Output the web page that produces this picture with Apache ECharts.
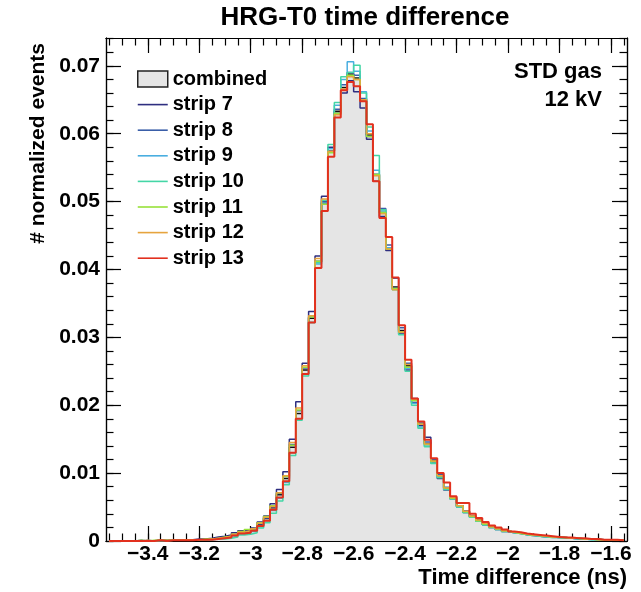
<!DOCTYPE html>
<html>
<head>
<meta charset="utf-8">
<script src="https://cdn.jsdelivr.net/npm/echarts@6/dist/echarts.min.js"></script>
<style>
html,body{margin:0;padding:0;background:#fff;}
#c{width:641px;height:592px;}
</style>
</head>
<body>
<div id="c"></div>
<script>
// ---- data ----
const binStart = -3.55;
const binWidth = 0.025;
const xTickLabels = [-3.4, -3.2, -3, -2.8, -2.6, -2.4, -2.2, -2, -1.8, -1.6];
const yTickLabels = [0, 0.01, 0.02, 0.03, 0.04, 0.05, 0.06, 0.07];
const seriesNames = ['combined', 'strip 7', 'strip 8', 'strip 9', 'strip 10', 'strip 11', 'strip 12', 'strip 13'];

const combined = [0,0,0,0.00005,0,0.00005,0.00005,0.0001,0.0001,0.0001,0.0001,0.00015,0.0002,0.0002,0.0002,0.0003,0.0004,0.0005,0.0006,0.0009,0.0012,0.0013,
0.0016,0.0024,0.0033,0.0049,0.0068,0.0092,0.0138,0.0188,0.0252,0.0328,0.0411,0.0498,0.0574,0.0633,0.0668,0.0688,0.0682,0.0650,0.0598,0.0540,
0.0484,0.0432,0.0374,0.0310,0.0258,0.0208,0.0172,0.0143,0.0118,0.0096,0.0078,0.0064,0.0052,0.0044,0.0037,0.0031,0.0026,0.0021,0.0018,0.0015,
0.0013,0.0012,0.0010,0.0009,0.0008,0.0007,0.0006,0.0006,0.0005,0.0004,0.0004,0.0003,0.0003,0.0003,0.0002,0.0002,0.0002,0.0001];

const strip7 = [0,0,0,0,0.0001,0,0,0.0001,0.0001,0.0001,0.0002,0.0002,0.0002,0.0003,0.0003,0.0004,0.0006,0.0007,0.0009,0.0012,0.0015,0.0016,
0.0019,0.0028,0.0037,0.0055,0.0076,0.0102,0.0150,0.0205,0.0262,0.0338,0.0420,0.0508,0.0580,0.0630,0.0660,0.0678,0.0662,0.0638,0.0592,0.0530,
0.0478,0.0428,0.0372,0.0305,0.0252,0.0204,0.0170,0.0153,0.0116,0.0092,0.0075,0.0062,0.0050,0.0042,0.0036,0.0030,0.0024,0.0020,0.0017,0.0014,
0.0012,0.0011,0.0009,0.0008,0.0007,0.0006,0.0006,0.0005,0.0005,0.0004,0.0003,0.0003,0.0003,0.0002,0.0002,0.0002,0.0001,0.0001];

const strip8 = [0,0,0,0,0,0.0001,0,0.0001,0.0001,0.0001,0.0001,0.0001,0.0002,0.0002,0.0002,0.0003,0.0004,0.0005,0.0007,0.0010,0.0013,0.0014,
0.0017,0.0025,0.0034,0.0050,0.0070,0.0095,0.0142,0.0192,0.0255,0.0330,0.0412,0.0500,0.0575,0.0636,0.0672,0.0690,0.0686,0.0652,0.0596,0.0540,
0.0490,0.0436,0.0387,0.0314,0.0262,0.0210,0.0174,0.0146,0.0120,0.0098,0.0079,0.0064,0.0052,0.0044,0.0037,0.0030,0.0025,0.0021,0.0018,0.0015,
0.0013,0.0012,0.0010,0.0009,0.0008,0.0007,0.0006,0.0005,0.0005,0.0004,0.0004,0.0003,0.0003,0.0002,0.0002,0.0002,0.0001,0.0001];

const strip9 = [0,0,0,0,0,0,0,0,0.0001,0.0001,0.0001,0.0001,0.0001,0.0002,0.0002,0.0002,0.0003,0.0004,0.0005,0.0007,0.0010,0.0011,
0.0014,0.0021,0.0030,0.0045,0.0063,0.0086,0.0130,0.0180,0.0246,0.0322,0.0408,0.0498,0.0578,0.0642,0.0680,0.0706,0.0692,0.0662,0.0604,0.0546,
0.0486,0.0432,0.0372,0.0308,0.0254,0.0203,0.0168,0.0140,0.0115,0.0094,0.0076,0.0062,0.0050,0.0042,0.0035,0.0029,0.0024,0.0020,0.0017,0.0014,
0.0012,0.0011,0.0009,0.0008,0.0007,0.0006,0.0005,0.0005,0.0004,0.0004,0.0003,0.0003,0.0002,0.0002,0.0002,0.0001,0.0001,0.0001];

const strip10 = [0,0,0,0,0,0,0,0,0,0.0001,0.0001,0.0001,0.0001,0.0001,0.0002,0.0002,0.0003,0.0003,0.0004,0.0006,0.0009,0.0010,
0.0012,0.0019,0.0027,0.0041,0.0059,0.0083,0.0126,0.0178,0.0243,0.0322,0.0410,0.0502,0.0584,0.0646,0.0684,0.0690,0.0701,0.0660,0.0610,0.0568,
0.0488,0.0430,0.0370,0.0304,0.0250,0.0200,0.0166,0.0139,0.0114,0.0093,0.0076,0.0062,0.0050,0.0042,0.0035,0.0029,0.0024,0.0020,0.0017,0.0014,
0.0012,0.0011,0.0009,0.0008,0.0007,0.0006,0.0005,0.0005,0.0004,0.0004,0.0003,0.0003,0.0002,0.0002,0.0002,0.0001,0.0001,0.0001];

const strip11 = [0,0,0,0,0.0001,0,0.0001,0.0001,0.0001,0.0001,0.0001,0.0002,0.0002,0.0002,0.0003,0.0003,0.0004,0.0006,0.0007,0.0010,0.0014,0.0017,
0.0019,0.0027,0.0036,0.0052,0.0071,0.0095,0.0141,0.0193,0.0256,0.0330,0.0412,0.0496,0.0572,0.0630,0.0664,0.0686,0.0680,0.0648,0.0596,0.0540,
0.0484,0.0430,0.0372,0.0308,0.0256,0.0207,0.0172,0.0142,0.0117,0.0096,0.0078,0.0063,0.0052,0.0043,0.0036,0.0030,0.0025,0.0021,0.0018,0.0015,
0.0013,0.0011,0.0010,0.0009,0.0008,0.0007,0.0006,0.0005,0.0005,0.0004,0.0004,0.0003,0.0003,0.0002,0.0002,0.0002,0.0001,0.0001];

const strip12 = [0,0,0,0,0,0.0001,0,0.0001,0.0001,0.0001,0.0001,0.0002,0.0002,0.0002,0.0002,0.0003,0.0004,0.0005,0.0007,0.0010,0.0013,0.0015,
0.0018,0.0026,0.0035,0.0051,0.0071,0.0096,0.0145,0.0196,0.0258,0.0332,0.0416,0.0504,0.0574,0.0628,0.0666,0.0684,0.0680,0.0650,0.0600,0.0538,
0.0482,0.0430,0.0370,0.0308,0.0260,0.0209,0.0172,0.0143,0.0118,0.0096,0.0078,0.0064,0.0052,0.0044,0.0037,0.0031,0.0026,0.0021,0.0018,0.0015,
0.0013,0.0012,0.0010,0.0009,0.0008,0.0007,0.0006,0.0006,0.0005,0.0004,0.0004,0.0003,0.0003,0.0002,0.0002,0.0002,0.0001,0.0001];

const strip13 = [0,0,0,0,0,0,0,0.0001,0,0.0001,0.0001,0.0001,0.0001,0.0002,0.0002,0.0002,0.0003,0.0004,0.0005,0.0008,0.0011,0.0012,
0.0015,0.0022,0.0030,0.0046,0.0064,0.0088,0.0130,0.0180,0.0246,0.0322,0.0402,0.0486,0.0566,0.0624,0.0664,0.0676,0.0670,0.0648,0.0614,0.0530,
0.0476,0.0448,0.0388,0.0318,0.0267,0.0210,0.0176,0.0149,0.0122,0.0100,0.0086,0.0066,0.0056,0.0056,0.0040,0.0034,0.0028,0.0023,0.0020,0.0017,
0.0014,0.0013,0.0011,0.0010,0.0009,0.0008,0.0007,0.0006,0.0005,0.0005,0.0004,0.0004,0.0003,0.0003,0.0002,0.0002,0.0002,0.0001];

// ---- styling / layout ----
const FONT = '"Liberation Sans", Arial, Helvetica, sans-serif';
const stripColors = ['#2e2e80', '#3a5ea8', '#4aaee0', '#44d6a6', '#98e23a', '#e6a43e', '#e2301e'];
const stripWidths = [1.5, 1.5, 1.5, 1.5, 1.5, 1.5, 2];
const xMin = -3.5625, xMax = -1.5375;
const yMin = 0, yMax = 0.0741;

function stepValues(from, to, step) {
  const out = [];
  const n = Math.round((to - from) / step);
  for (let k = 0; k <= n; k++) out.push(Math.round((from + k * step) * 100000) / 100000);
  return out;
}
const xMinor = stepValues(-3.55, -1.55, 0.05);
const yMinor = stepValues(0, 0.074, 0.002);

function histPoints(vals) {
  const pts = [];
  vals.forEach((v, i) => {
    const lo = binStart + i * binWidth;
    const hi = lo + binWidth;
    pts.push([lo, v], [hi, v]);
  });
  return pts;
}

const fmtX = v => {
  const r = Math.round(v * 1000) / 1000;
  return r < 0 ? '\u2212' + String(Math.abs(r)) : String(r);
};
const fmtY = v => (Math.abs(v) < 1e-9 ? '0' : (Math.round(v * 1000) / 1000).toFixed(2));

function xAxisDef(pos, major, showLabel) {
  return {
    type: 'value', min: xMin, max: xMax, position: pos,
    axisLine: { show: true, onZero: false, lineStyle: { color: '#000', width: 1.2 } },
    axisTick: { show: true, inside: true, length: major ? 15 : 7.5, customValues: major ? xTickLabels : xMinor, lineStyle: { color: '#000', width: 1.2 } },
    axisLabel: showLabel ? { show: true, customValues: xTickLabels, formatter: fmtX, color: '#000', fontFamily: FONT, fontWeight: 'bold', fontSize: 21, margin: 3 } : { show: false },
    splitLine: { show: false }
  };
}
function yAxisDef(pos, major, showLabel) {
  return {
    type: 'value', min: yMin, max: yMax, position: pos,
    axisLine: { show: true, onZero: false, lineStyle: { color: '#000', width: 1.2 } },
    axisTick: { show: true, inside: true, length: major ? 15 : 7.5, customValues: major ? yTickLabels : yMinor, lineStyle: { color: '#000', width: 1.2 } },
    axisLabel: showLabel ? { show: true, customValues: yTickLabels, formatter: fmtY, color: '#000', fontFamily: FONT, fontWeight: 'bold', fontSize: 21, margin: 6 } : { show: false },
    splitLine: { show: false }
  };
}

const stripData = [strip7, strip8, strip9, strip10, strip11, strip12, strip13];

const series = [{
  name: seriesNames[0], type: 'line', xAxisIndex: 0, yAxisIndex: 0,
  data: histPoints(combined), symbol: 'none', silent: true,
  lineStyle: { color: '#111', width: 1.5 },
  itemStyle: { color: '#e5e5e5', borderColor: '#222' },
  areaStyle: { color: '#e5e5e5', opacity: 1, origin: 'start' },
  z: 2
}];
stripData.forEach((d, k) => {
  series.push({
    name: seriesNames[k + 1], type: 'line', xAxisIndex: 0, yAxisIndex: 0,
    data: histPoints(d), symbol: 'none', silent: true,
    lineStyle: { color: stripColors[k], width: stripWidths[k] },
    itemStyle: { color: stripColors[k] },
    z: 3 + k
  });
});

const lineIcon = 'path://M0,0 L30,0 L30,1.6 L0,1.6 Z';
const legendData = seriesNames.map((n, k) => k === 0
  ? { name: n, icon: 'rect', itemStyle: { color: '#e5e5e5', borderColor: '#222', borderWidth: 1.5 } }
  : { name: n, icon: lineIcon, itemStyle: { color: stripColors[k - 1], borderWidth: 0 } });

const chart = echarts.init(document.getElementById('c'), null, { renderer: 'canvas' });
chart.setOption({
  animation: false,
  backgroundColor: '#fff',
  grid: { left: 106, right: 14, top: 38, bottom: 51, containLabel: false },
  xAxis: [xAxisDef('bottom', true, true), xAxisDef('bottom', false, false), xAxisDef('top', true, false), xAxisDef('top', false, false)],
  yAxis: [yAxisDef('left', true, true), yAxisDef('left', false, false), yAxisDef('right', true, false), yAxisDef('right', false, false)],
  legend: {
    data: legendData, orient: 'vertical', left: 132, top: 64, padding: 5,
    itemWidth: 30, itemHeight: 16, itemGap: 5.6, selectedMode: false, symbolKeepAspect: true,
    textStyle: { color: '#000', fontFamily: FONT, fontWeight: 'bold', fontSize: 20 }
  },
  graphic: [
    { type: 'text', x: 365, y: 18, style: { text: 'HRG-T0 time difference', font: 'bold 26px ' + FONT, fill: '#000', textAlign: 'center', textVerticalAlign: 'middle' } },
    { type: 'text', x: 602, y: 72, style: { text: 'STD gas', font: 'bold 22px ' + FONT, fill: '#000', textAlign: 'right', textVerticalAlign: 'middle' } },
    { type: 'text', x: 602, y: 100, style: { text: '12 kV', font: 'bold 22px ' + FONT, fill: '#000', textAlign: 'right', textVerticalAlign: 'middle' } },
    { type: 'text', x: 627, y: 578, style: { text: 'Time difference (ns)', font: 'bold 22px ' + FONT, fill: '#000', textAlign: 'right', textVerticalAlign: 'middle' } },
    { type: 'text', x: 38, y: 43, rotation: Math.PI / 2, style: { text: '# normalized events', font: 'bold 21px ' + FONT, fill: '#000', textAlign: 'right', textVerticalAlign: 'middle' } }
  ],
  series: series
});
</script>
</body>
</html>
